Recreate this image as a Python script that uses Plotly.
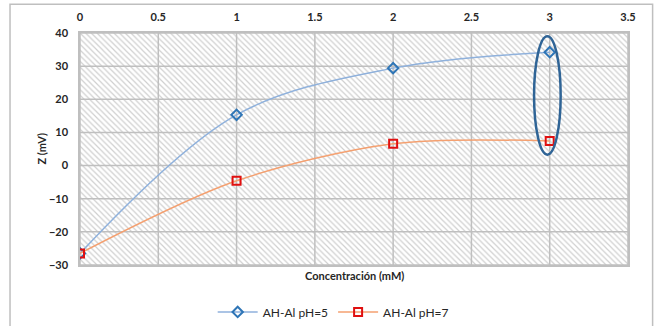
import plotly.graph_objects as go

conc = [0, 1, 2, 3]
z_ph5 = [-26.5, 15.3, 29.4, 34.2]
z_ph7 = [-26.5, -4.6, 6.6, 7.4]
series_names = ["AH-Al pH=5", "AH-Al pH=7"]
x_ticks = [0, 0.5, 1, 1.5, 2, 2.5, 3, 3.5]
x_tick_text = ["0", "0.5", "1", "1.5", "2", "2.5", "3", "3.5"]
y_ticks = [-30, -20, -10, 0, 10, 20, 30, 40]
x_range = [0, 3.5]
y_range = [-30, 40]
ellipse_x = [2.9, 3.07]
ellipse_y = [3.3, 39.0]

FONT = "Lato"
TXT = "#262626"
GRID = "#bfbfbf"

fig = go.Figure()

# hatched plot background
fig.add_trace(go.Scatter(
    x=[x_range[0], x_range[1], x_range[1], x_range[0], x_range[0]],
    y=[y_range[0], y_range[0], y_range[1], y_range[1], y_range[0]],
    mode="lines", fill="toself", fillcolor="white",
    fillpattern=dict(shape="\\", fgcolor="#a0a0a0", bgcolor="white",
                     size=4, solidity=0.3),
    line=dict(width=0), hoverinfo="skip", showlegend=False))

# grid lines drawn above the hatching
gx, gy = [], []
for t in x_ticks:
    gx += [t, t, None]
    gy += [y_range[0], y_range[1], None]
for t in y_ticks:
    gx += [x_range[0], x_range[1], None]
    gy += [t, t, None]
fig.add_trace(go.Scatter(x=gx, y=gy, mode="lines",
                         line=dict(color=GRID, width=1.5),
                         hoverinfo="skip", showlegend=False))

fig.add_trace(go.Scatter(
    x=conc, y=z_ph5, name=series_names[0], mode="lines+markers",
    line=dict(color="#8fb1dc", width=1.5, shape="spline", smoothing=1.0),
    marker=dict(symbol="diamond-open", size=8, color="#2e75b6",
                line=dict(width=2, color="#2e75b6"))))
fig.add_trace(go.Scatter(
    x=conc, y=z_ph7, name=series_names[1], mode="lines+markers",
    line=dict(color="#f4a070", width=1.5, shape="spline", smoothing=0.9),
    marker=dict(symbol="square-open", size=8, color="#e01010",
                line=dict(width=2, color="#e01010"))))

# ellipse highlight
fig.add_shape(type="circle", xref="x", yref="y",
              x0=ellipse_x[0], x1=ellipse_x[1], y0=ellipse_y[0], y1=ellipse_y[1],
              line=dict(color="#2f6496", width=2.5), layer="above")

# outer chart border
fig.add_shape(type="rect", xref="paper", yref="paper",
              x0=-0.1277, x1=1.0449, y0=-0.29, y1=1.1243,
              line=dict(color="#bfbfbf", width=1.5), layer="below")

fig.add_annotation(text="<b>Concentración (mM)</b>", xref="paper", yref="paper",
                   x=0.5, y=-0.008, xanchor="center", yanchor="top",
                   showarrow=False, font=dict(family=FONT, size=11, color=TXT))
fig.add_annotation(text="<b>Z (mV)</b>", xref="paper", yref="paper",
                   x=-0.072, y=0.5, xanchor="center", yanchor="middle",
                   textangle=-90, showarrow=False,
                   font=dict(family=FONT, size=11, color=TXT))

fig.update_layout(
    width=655, height=326,
    margin=dict(l=80, r=27, t=33, b=61, autoexpand=False),
    paper_bgcolor="white", plot_bgcolor="white",
    font=dict(family=FONT, color=TXT),
    xaxis=dict(range=x_range, side="top", tickvals=x_ticks, ticktext=x_tick_text,
               showgrid=False, zeroline=False, showline=True, mirror=True,
               linecolor=GRID, linewidth=1.5, ticks="", ticklabelstandoff=6,
               tickfont=dict(family=FONT, size=11, color=TXT, weight="bold")),
    yaxis=dict(range=y_range, tickvals=y_ticks, showgrid=False, zeroline=False,
               showline=True, mirror=True, linecolor=GRID, linewidth=1.5,
               ticks="", ticklabelstandoff=8,
               tickfont=dict(family=FONT, size=11, color=TXT, weight="bold")),
    legend=dict(orientation="h", x=0.462, xanchor="center", y=-0.14, yanchor="top",
                font=dict(family=FONT, size=12, color=TXT),
                bgcolor="rgba(0,0,0,0)", itemwidth=40, traceorder="normal"),
    showlegend=True,
)

fig.write_html("out.html")
